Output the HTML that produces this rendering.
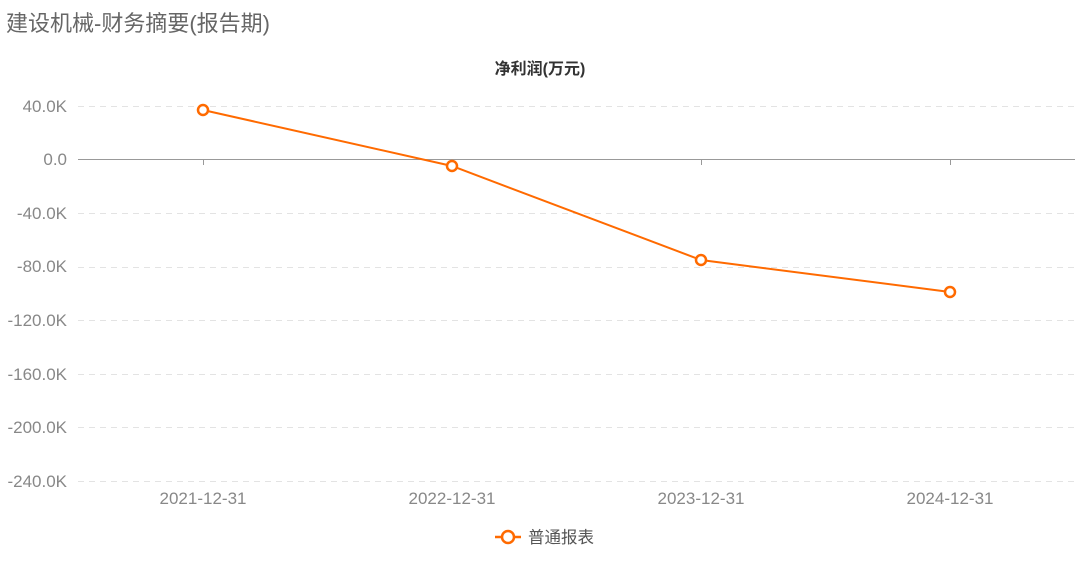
<!DOCTYPE html>
<html><head><meta charset="utf-8"><style>
body{margin:0;background:#fff;}
svg text{font-family:"Liberation Sans","Noto Sans CJK SC",sans-serif;}
</style></head><body>
<svg width="1080" height="559" xmlns="http://www.w3.org/2000/svg">
<text x="6" y="31" font-size="22" fill="#666">建设机械-财务摘要(报告期)</text>
<text x="540" y="74" font-size="16" font-weight="bold" fill="#333" text-anchor="middle">净利润(万元)</text>
<g stroke="#e3e3e3" stroke-dasharray="6,5" stroke-width="1">
<line x1="78" x2="1075" y1="106.5" y2="106.5"/>
<line x1="78" x2="1075" y1="213.5" y2="213.5"/>
<line x1="78" x2="1075" y1="267.5" y2="267.5"/>
<line x1="78" x2="1075" y1="320.5" y2="320.5"/>
<line x1="78" x2="1075" y1="374.5" y2="374.5"/>
<line x1="78" x2="1075" y1="427.5" y2="427.5"/>
<line x1="78" x2="1075" y1="481.5" y2="481.5"/>
</g>
<line x1="78" x2="1075" y1="159.5" y2="159.5" stroke="#999"/>
<g stroke="#999"><line x1="203.5" x2="203.5" y1="159" y2="165"/><line x1="452.5" x2="452.5" y1="159" y2="165"/><line x1="701.5" x2="701.5" y1="159" y2="165"/><line x1="950.5" x2="950.5" y1="159" y2="165"/></g>
<g font-size="17" fill="#888" text-anchor="end">
<text x="67" y="112">40.0K</text>
<text x="67" y="165">0.0</text>
<text x="67" y="219">-40.0K</text>
<text x="67" y="272">-80.0K</text>
<text x="67" y="326">-120.0K</text>
<text x="67" y="380">-160.0K</text>
<text x="67" y="433">-200.0K</text>
<text x="67" y="487">-240.0K</text>
</g>
<g font-size="17" fill="#888" text-anchor="middle">
<text x="203" y="504">2021-12-31</text>
<text x="452" y="504">2022-12-31</text>
<text x="701" y="504">2023-12-31</text>
<text x="950" y="504">2024-12-31</text>
</g>
<polyline points="203,110 452,166 701,260 950,292" fill="none" stroke="#ff6a00" stroke-width="2"/>
<g fill="#fff" stroke="#ff6a00" stroke-width="2.5">
<circle cx="203" cy="110" r="5"/><circle cx="452" cy="166" r="5"/><circle cx="701" cy="260" r="5"/><circle cx="950" cy="292" r="5"/>
</g>
<line x1="495" x2="521" y1="537" y2="537" stroke="#ff6a00" stroke-width="2.5"/>
<circle cx="508" cy="537" r="6" fill="#fff" stroke="#ff6a00" stroke-width="2.5"/>
<text x="528" y="543" font-size="16.5" fill="#555">普通报表</text>
</svg>
</body></html>
